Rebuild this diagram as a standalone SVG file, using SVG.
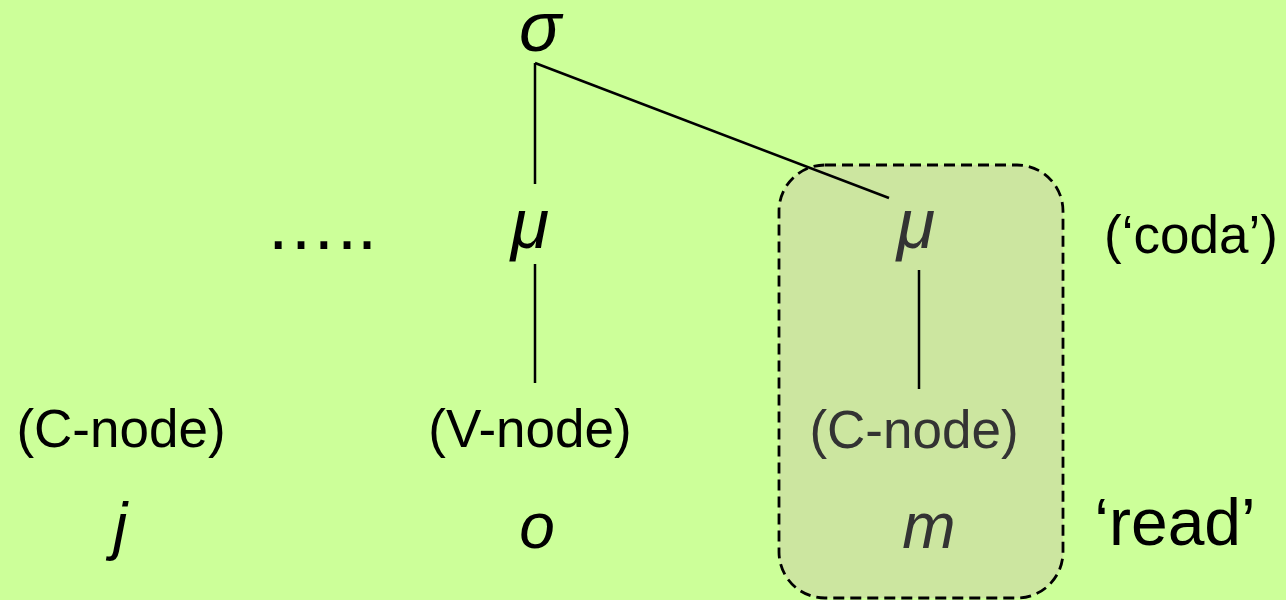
<svg xmlns="http://www.w3.org/2000/svg" width="1286" height="600" viewBox="0 0 1286 600">
<style>
text{font-family:"Liberation Sans",Arial,sans-serif;fill:#000}
.sym{font-size:64px;font-style:italic;text-anchor:middle}
.gr{font-size:70px}
.lbl{font-size:53px;text-anchor:middle}
.gl{font-size:66px}
.dim{fill:#333}
.ln{stroke:#000;stroke-width:2.5;fill:none}
</style>
<rect width="1286" height="600" fill="#CCFF99"/>
<g id="coda-box">
<rect x="779" y="165" width="284" height="433" rx="46" ry="46" fill="#CCE6A0" stroke="#000" stroke-width="2.8" stroke-dasharray="11 6"/>
</g>
<g id="connectors">
<line class="ln" x1="535" y1="63" x2="535" y2="184"/>
<line class="ln" x1="535" y1="63" x2="889" y2="198"/>
<line class="ln" x1="535" y1="264" x2="535" y2="383"/>
<line class="ln" x1="919" y1="270" x2="919" y2="389"/>
</g>
<g id="sigma"><text class="sym gr" x="540" y="51">σ</text></g>
<g id="dots"><text style="font-size:72px" x="265" y="249">…..</text></g>
<g id="mu-v"><text class="sym gr" x="530" y="248">μ</text></g>
<g id="mu-coda"><text class="sym gr dim" x="916" y="248">μ</text></g>
<g id="coda-label"><text class="lbl" x="1191" y="253">(‘coda’)</text></g>
<g id="c-node-j"><text class="lbl" x="121" y="447">(C-node)</text><text class="sym" x="120" y="548">j</text></g>
<g id="v-node-o"><text class="lbl" x="530" y="447">(V-node)</text><text class="sym" x="537" y="548">o</text></g>
<g id="c-node-m"><text class="lbl dim" x="914" y="448">(C-node)</text><text class="sym dim" x="929" y="548">m</text></g>
<g id="gloss"><text class="gl" x="1175" y="545" text-anchor="middle">‘read’</text></g>
</svg>
